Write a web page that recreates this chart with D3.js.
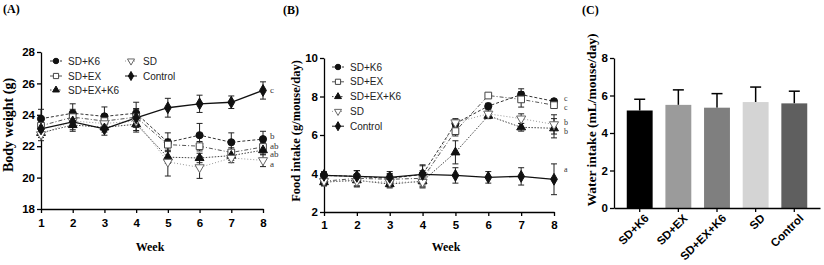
<!DOCTYPE html>
<html>
<head>
<meta charset="utf-8">
<script src="https://cdn.jsdelivr.net/npm/d3@7"></script>
<style>
  body { margin: 0; background: #fff; }
  svg { display: block; }
  .tick text { font-family: 'Liberation Sans', Arial, sans-serif; font-weight: bold; font-size: 11.5px; fill: #000; }
  .domain, .tick line { stroke: #000; stroke-width: 1.3; }
  .title { font-family: 'Liberation Serif', 'Times New Roman', serif; font-weight: bold; font-size: 12px; }
  .axis-label { font-family: 'Liberation Serif', 'Times New Roman', serif; font-weight: bold; }
  .legend { font-family: 'Liberation Sans', Arial, sans-serif; font-size: 10px; fill: #222; }
  .sig { font-family: 'Liberation Serif', 'Times New Roman', serif; fill: #333; }
</style>
</head>
<body>
<svg width="824" height="265"></svg>
<script>
const weeks = [1, 2, 3, 4, 5, 6, 7, 8]
const groups = ['SD+K6', 'SD+EX', 'SD+EX+K6', 'SD', 'Control']

// body weight (g), one row per group
const weightMean = [
  [23.75, 24.1, 23.9, 24.1, 22.25, 22.7, 22.25, 22.45],
  [23.3, 23.85, 23.6, 23.85, 22.1, 22.0, 21.6, 21.95],
  [22.85, 23.35, 23.2, 23.4, 21.3, 21.25, 21.4, 21.75],
  [22.75, 23.6, 23.45, 23.6, 21.0, 20.65, 21.25, 21.1],
  [23.1, 23.55, 23.1, 23.8, 24.45, 24.7, 24.8, 25.55]
]
const weightErr = [
  [0.6, 0.6, 0.6, 0.7, 0.6, 0.75, 0.6, 0.5],
  [0.4, 0.5, 0.4, 0.5, 0.35, 0.3, 0.3, 0.3],
  [0.3, 0.4, 0.3, 0.5, 0.4, 0.3, 0.3, 0.3],
  [0.4, 0.4, 0.4, 0.6, 0.9, 0.7, 0.3, 0.4],
  [0.4, 0.5, 0.4, 0.6, 0.6, 0.55, 0.4, 0.55]
]
const weightSig = ['b', 'ab', 'ab', 'a', 'c']

// food intake (g/mouse/day)
const foodMean = [
  [3.9, 3.85, 3.75, 3.95, 6.6, 7.5, 8.1, 7.75],
  [3.6, 3.75, 3.7, 3.75, 6.2, 8.05, 7.85, 7.55],
  [3.55, 3.65, 3.45, 3.6, 5.1, 7.0, 6.4, 6.35],
  [3.6, 3.6, 3.55, 3.55, 6.65, 7.1, 6.85, 6.55],
  [3.9, 3.85, 3.8, 3.95, 3.9, 3.8, 3.85, 3.7]
]
const foodErr = [
  [0.2, 0.3, 0.2, 0.5, 0.2, 0.15, 0.3, 0.1],
  [0.2, 0.4, 0.3, 0.4, 0.25, 0.1, 0.4, 0.15],
  [0.2, 0.3, 0.15, 0.3, 0.6, 0.15, 0.2, 0.5],
  [0.2, 0.3, 0.3, 0.3, 0.2, 0.2, 0.25, 0.5],
  [0.15, 0.3, 0.3, 0.45, 0.4, 0.3, 0.45, 0.8]
]
const foodSig = ['c', 'c', 'b', 'b', 'a']

// water intake (mL/mouse/day)
const waterMean = [5.2, 5.5, 5.35, 5.65, 5.58]
const waterErr = [0.6, 0.8, 0.75, 0.8, 0.65]

const svg = d3.select('svg')

const styles = [
  { sym: d3.symbolCircle, size: 40, fill: '#111', stroke: '#111', dash: '3,2', line: '#333', rot: 0 },
  { sym: d3.symbolSquare, size: 45, fill: '#fff', stroke: '#444', dash: '4,2,1,2', line: '#555', rot: 0 },
  { sym: d3.symbolTriangle, size: 34, fill: '#111', stroke: '#111', dash: '1.5,1.5', line: '#444', rot: 0 },
  { sym: d3.symbolTriangle, size: 36, fill: '#fff', stroke: '#666', dash: '1,2', line: '#999', rot: 180 },
  { sym: d3.symbolDiamond, size: 40, fill: '#111', stroke: '#111', dash: null, line: '#111', rot: 0 }
]

const lineChart = (opt) => {
  const { xRange, yRange, yDomain, yTicks, means, errs, sig, sigPos } = opt
  const xScale = d3.scaleLinear().domain([1, 8]).range(xRange)
  const yScale = d3.scaleLinear().domain(yDomain).range(yRange)
  const g = svg.append('g')

  g.append('g')
    .attr('transform', `translate(${xRange[0]},0)`)
    .call(d3.axisLeft(yScale).tickValues(yTicks).tickSize(4).tickSizeOuter(0).tickPadding(2))
  g.append('g')
    .attr('transform', `translate(0,${yRange[0]})`)
    .call(d3.axisBottom(xScale).tickValues(weeks).tickFormat(d3.format('d'))
      .tickSize(4).tickSizeOuter(0).tickPadding(opt.xPad))

  const line = d3.line().x((d, i) => xScale(weeks[i])).y(d => yScale(d))

  means.forEach((m, k) => {
    const s = styles[k]
    g.append('path')
      .attr('d', line(m))
      .attr('fill', 'none')
      .attr('stroke', s.line)
      .attr('stroke-width', k === 4 ? 1.3 : 1)
      .attr('stroke-dasharray', s.dash)
  })

  means.forEach((m, k) => {
    m.forEach((v, i) => {
      const x = xScale(weeks[i])
      const e = errs[k][i]
      const eb = g.append('g').attr('stroke', '#222').attr('stroke-width', 1)
      eb.append('line').attr('x1', x).attr('x2', x).attr('y1', yScale(v - e)).attr('y2', yScale(v + e))
      eb.append('line').attr('x1', x - 3).attr('x2', x + 3).attr('y1', yScale(v + e)).attr('y2', yScale(v + e))
      eb.append('line').attr('x1', x - 3).attr('x2', x + 3).attr('y1', yScale(v - e)).attr('y2', yScale(v - e))
    })
  })

  means.forEach((m, k) => {
    const s = styles[k]
    g.selectAll(null).data(m).enter().append('path')
      .attr('d', d3.symbol().type(s.sym).size(s.size))
      .attr('transform', (d, i) => `translate(${xScale(weeks[i])},${yScale(d)}) rotate(${s.rot})`)
      .attr('fill', s.fill)
      .attr('stroke', s.stroke)
      .attr('stroke-width', 1)
  })

  sig.forEach((t, k) => {
    g.append('text')
      .attr('class', 'sig')
      .attr('font-size', sigPos.size)
      .attr('x', sigPos.x)
      .attr('y', sigPos.y[k])
      .attr('dy', '0.35em')
      .text(t)
  })

  return { g, xScale, yScale }
}

const legendEntry = (x, y, k, text) => {
  const s = styles[k]
  svg.append('line')
    .attr('x1', x - 6).attr('x2', x + 6).attr('y1', y).attr('y2', y)
    .attr('stroke', s.line).attr('stroke-width', 1)
    .attr('stroke-dasharray', s.dash)
  svg.append('path')
    .attr('d', d3.symbol().type(s.sym).size(s.size * 0.6))
    .attr('transform', `translate(${x},${y}) rotate(${s.rot})`)
    .attr('fill', s.fill).attr('stroke', s.stroke)
  svg.append('text')
    .attr('class', 'legend')
    .attr('x', x + 12).attr('y', y)
    .attr('dy', '0.35em')
    .text(text)
}

// (A) body weight
lineChart({
  xRange: [41, 263], yRange: [209, 52], yDomain: [18, 28], yTicks: [18, 20, 22, 24, 26, 28],
  means: weightMean, errs: weightErr, sig: weightSig, xPad: 6,
  sigPos: { x: 270, y: [135.5, 145.5, 154, 163.5, 89.5], size: 9 }
})
svg.append('text').attr('class', 'title').attr('x', 3).attr('y', 13).text('(A)')
svg.append('text').attr('class', 'axis-label').attr('font-size', 14)
  .attr('transform', 'translate(13,125) rotate(-90)').attr('text-anchor', 'middle').text('Body weight (g)')
svg.append('text').attr('class', 'axis-label').attr('font-size', 12)
  .attr('x', 150).attr('y', 251).attr('text-anchor', 'middle').text('Week')
legendEntry(56, 61, 0, groups[0])
legendEntry(56, 76, 1, groups[1])
legendEntry(56, 90, 2, groups[2])
legendEntry(131, 61, 3, groups[3])
legendEntry(131, 76, 4, groups[4])

// (B) food intake
lineChart({
  xRange: [324, 554], yRange: [212, 58], yDomain: [2, 10], yTicks: [2, 4, 6, 8, 10],
  means: foodMean, errs: foodErr, sig: foodSig, xPad: 5,
  sigPos: { x: 564, y: [98, 107.5, 122, 131.5, 169.5], size: 8 }
})
svg.append('text').attr('class', 'title').attr('x', 283).attr('y', 14).text('(B)')
svg.append('text').attr('class', 'axis-label').attr('font-size', 12.5)
  .attr('transform', 'translate(300,131) rotate(-90)').attr('text-anchor', 'middle').text('Food intake (g/mouse/day)')
svg.append('text').attr('class', 'axis-label').attr('font-size', 12)
  .attr('x', 446).attr('y', 251).attr('text-anchor', 'middle').text('Week')
groups.forEach((name, k) => legendEntry(338, 67 + k * 14.8, k, name))

// (C) water intake
const barColors = ['#000', '#9b9b9b', '#7f7f7f', '#d4d4d4', '#5f5f5f']
const xC = d3.scaleBand().domain(groups).range([614, 820]).padding(0.33)
const yC = d3.scaleLinear().domain([0, 8]).range([208, 58])
const gC = svg.append('g')

gC.selectAll('line.err').data(waterMean).enter().append('line')
  .attr('x1', (d, i) => xC(groups[i]) + xC.bandwidth() / 2)
  .attr('x2', (d, i) => xC(groups[i]) + xC.bandwidth() / 2)
  .attr('y1', d => yC(d))
  .attr('y2', (d, i) => yC(d + waterErr[i]))
  .attr('stroke', '#000').attr('stroke-width', 1.5)
gC.selectAll('line.cap').data(waterMean).enter().append('line')
  .attr('x1', (d, i) => xC(groups[i]) + xC.bandwidth() / 2 - 5.5)
  .attr('x2', (d, i) => xC(groups[i]) + xC.bandwidth() / 2 + 5.5)
  .attr('y1', (d, i) => yC(d + waterErr[i]))
  .attr('y2', (d, i) => yC(d + waterErr[i]))
  .attr('stroke', '#000').attr('stroke-width', 1.5)
gC.selectAll('rect').data(waterMean).enter().append('rect')
  .attr('x', (d, i) => xC(groups[i]))
  .attr('y', d => yC(d))
  .attr('width', xC.bandwidth())
  .attr('height', d => yC(0) - yC(d))
  .attr('fill', (d, i) => barColors[i])

gC.append('g')
  .attr('transform', 'translate(614,0)')
  .call(d3.axisLeft(yC).tickValues([0, 2, 4, 6, 8]).tickSize(4).tickSizeOuter(0).tickPadding(2))
const xAxisC = gC.append('g')
  .attr('transform', 'translate(0,208)')
  .call(d3.axisBottom(xC).tickSize(4).tickSizeOuter(0))
xAxisC.selectAll('.tick text')
  .attr('text-anchor', 'end')
  .attr('dy', 0)
  .attr('transform', 'translate(5,6) rotate(-45)')

svg.append('text').attr('class', 'title').attr('x', 582).attr('y', 14).text('(C)')
svg.append('text').attr('class', 'axis-label').attr('font-size', 13.5)
  .attr('transform', 'translate(596,120) rotate(-90)').attr('text-anchor', 'middle').text('Water intake (mL/mouse/day)')
</script>
</body>
</html>
